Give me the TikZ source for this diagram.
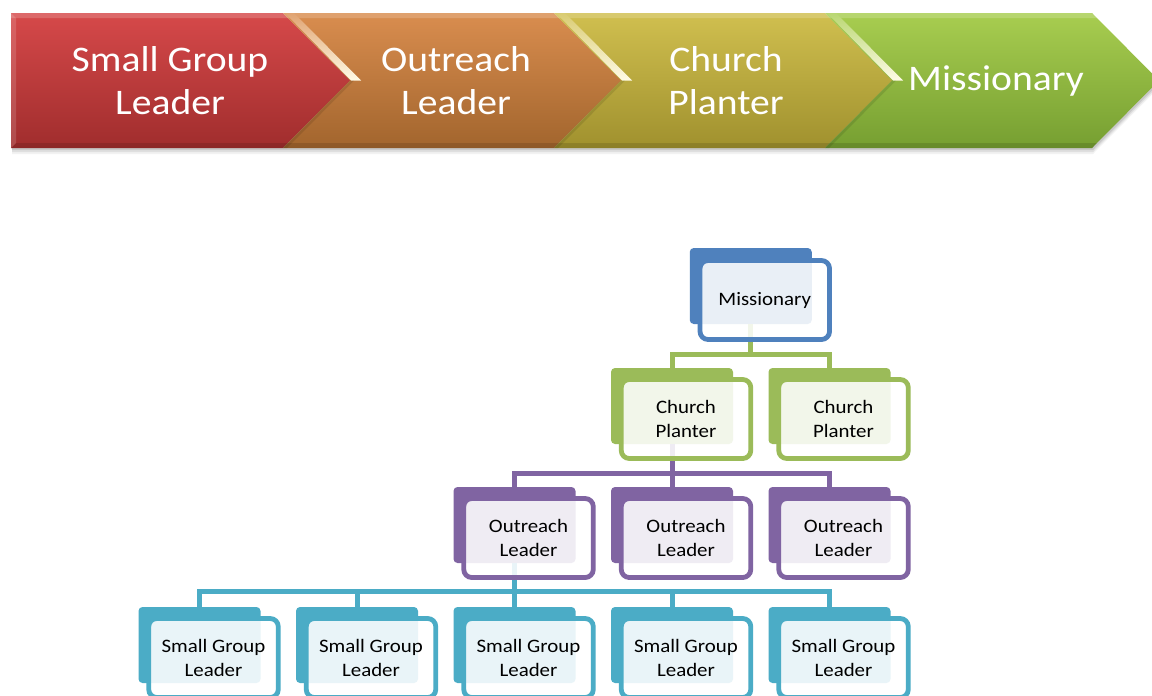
\documentclass[tikz,border=0pt]{standalone}
\usepackage{fontspec}
\setmainfont[FakeStretch=1.1]{Carlito}
\usetikzlibrary{calc}
\definecolor{redT}{HTML}{D6494A}
\definecolor{redB}{HTML}{A02D2D}
\definecolor{orgT}{HTML}{D98D4F}
\definecolor{orgB}{HTML}{A2652D}
\definecolor{yelT}{HTML}{D0BF4F}
\definecolor{yelB}{HTML}{A0912E}
\definecolor{grnT}{HTML}{A8CD50}
\definecolor{grnB}{HTML}{769F31}
\definecolor{cblue}{HTML}{4F81BD}
\definecolor{cgreen}{HTML}{9BBB59}
\definecolor{cpurple}{HTML}{8064A2}
\definecolor{cteal}{HTML}{4BACC6}
\definecolor{glint}{HTML}{FFFBE6}
\tikzset{
  chevtext/.style={text=white, align=center, inner sep=0pt, font=\fontsize{36}{43}\selectfont},
  backbox/.style={fill=#1, draw=none, rounded corners=4pt, minimum width=122pt, minimum height=76pt, inner sep=0pt},
  frontbox/.style={draw=#1, line width=4.8pt, rounded corners=8pt, fill=white, fill opacity=0.88, text opacity=1, draw opacity=1,
     minimum width=129.5pt, minimum height=79pt, inner sep=0pt, align=center, text=black, font=\fontsize{19}{24}\selectfont},
  conn/.style={draw=#1, line width=5pt},
}
\begin{document}
\begin{tikzpicture}[x=1pt,y=-1pt]
\useasboundingbox (0,0) rectangle (1152,696);
\fill[white] (0,0) rectangle (1152,696);

% ---- top process band ----
% shadow
\foreach \d/\o in {2/0.10,4/0.08,6/0.05}{
  \fill[black, opacity=\o] (11+1,13+\d) -- (1092+1,13+\d) -- (1159+1,80.5+\d) -- (1092+1,148+\d) -- (11+1,148+\d) -- cycle;
}
\shade[top color=redT, bottom color=redB] (11,13) -- (283,13) -- (350,80.5) -- (283,148) -- (11,148) -- cycle;
\shade[top color=orgT, bottom color=orgB] (283,13) -- (554,13) -- (621,80.5) -- (554,148) -- (283,148) -- (350,80.5) -- cycle;
\shade[top color=yelT, bottom color=yelB] (554,13) -- (825,13) -- (892,80.5) -- (825,148) -- (554,148) -- (621,80.5) -- cycle;
\shade[top color=grnT, bottom color=grnB] (825,13) -- (1092,13) -- (1159,80.5) -- (1092,148) -- (825,148) -- (892,80.5) -- cycle;
% bevel highlights
\fill[white, opacity=0.18] (11,13) -- (1092,13) -- (1097,18) -- (11,18) -- cycle;
\fill[white, opacity=0.15] (11,13) -- (16,18) -- (16,143) -- (11,148) -- cycle;
\fill[black, opacity=0.12] (11,148) -- (1092,148) -- (1097,143) -- (16,143) -- cycle;
% notch glints
\shade[top color=orgT!80!white, bottom color=glint] (285,13) -- (294,13) -- (361,80.5) -- (351,80.5) -- cycle;
\shade[top color=yelT!80!white, bottom color=glint] (556,13) -- (565,13) -- (632,80.5) -- (622,80.5) -- cycle;
\shade[top color=grnT!80!white, bottom color=glint] (827,13) -- (836,13) -- (903,80.5) -- (893,80.5) -- cycle;
\foreach \x in {283,554,825}{
  \fill[black, opacity=0.10] (\x+67,80.5) -- (\x+71,80.5) -- (\x+4,148) -- (\x,148) -- cycle;
}
\node[chevtext] (t1) at (170,81) {Small Group\\Leader};
\node[chevtext] (t2) at (456,81) {Outreach\\Leader};
\node[chevtext] (t3) at (726,81) {Church\\Planter};
\node[chevtext] (t4) at (996,81) {Missionary};

% ---- org chart: back tabs ----
\node[backbox=cblue] (m) at (750.75,286) {};
\node[backbox=cgreen] (c1) at (672,406) {};
\node[backbox=cgreen] (c2) at (829.5,406) {};
\node[backbox=cpurple] (o1) at (514.5,525) {};
\node[backbox=cpurple] (o2) at (672,525) {};
\node[backbox=cpurple] (o3) at (829.5,525) {};
\node[backbox=cteal] (s1) at (199.5,645) {};
\node[backbox=cteal] (s2) at (357,645) {};
\node[backbox=cteal] (s3) at (514.5,645) {};
\node[backbox=cteal] (s4) at (672,645) {};
\node[backbox=cteal] (s5) at (829.5,645) {};

% ---- connectors ----
\coordinate (bA) at ($(c1.north)+(0,-13)$);
\coordinate (bB) at ($(o1.north)+(0,-13)$);
\coordinate (bC) at ($(s1.north)+(0,-15)$);
\draw[conn=cgreen] (m.south) -- (m.south |- bA)
  (c1.north) |- (c2.north |- bA) -- (c2.north);
\draw[conn=cpurple] (c1.south) -- (c1.south |- bB)
  (o1.north) |- (o3.north |- bB) -- (o3.north)
  (o2.north) -- (o2.north |- bB);
\draw[conn=cteal] (o1.south) -- (o1.south |- bC)
  (s1.north) |- (s5.north |- bC) -- (s5.north)
  (s2.north) -- (s2.north |- bC)
  (s3.north) -- (s3.north |- bC)
  (s4.north) -- (s4.north |- bC);

% ---- org chart: front boxes ----
\node[frontbox=cblue] (mf) at ($(m)+(14,14)$) {Missionary};
\node[frontbox=cgreen] (c1f) at ($(c1)+(14,13)$) {Church\\Planter};
\node[frontbox=cgreen] (c2f) at ($(c2)+(14,13)$) {Church\\Planter};
\node[frontbox=cpurple] (o1f) at ($(o1)+(14,13)$) {Outreach\\Leader};
\node[frontbox=cpurple] (o2f) at ($(o2)+(14,13)$) {Outreach\\Leader};
\node[frontbox=cpurple] (o3f) at ($(o3)+(14,13)$) {Outreach\\Leader};
\node[frontbox=cteal] (s1f) at ($(s1)+(14,13)$) {Small Group\\Leader};
\node[frontbox=cteal] (s2f) at ($(s2)+(14,13)$) {Small Group\\Leader};
\node[frontbox=cteal] (s3f) at ($(s3)+(14,13)$) {Small Group\\Leader};
\node[frontbox=cteal] (s4f) at ($(s4)+(14,13)$) {Small Group\\Leader};
\node[frontbox=cteal] (s5f) at ($(s5)+(14,13)$) {Small Group\\Leader};
\end{tikzpicture}
\end{document}
